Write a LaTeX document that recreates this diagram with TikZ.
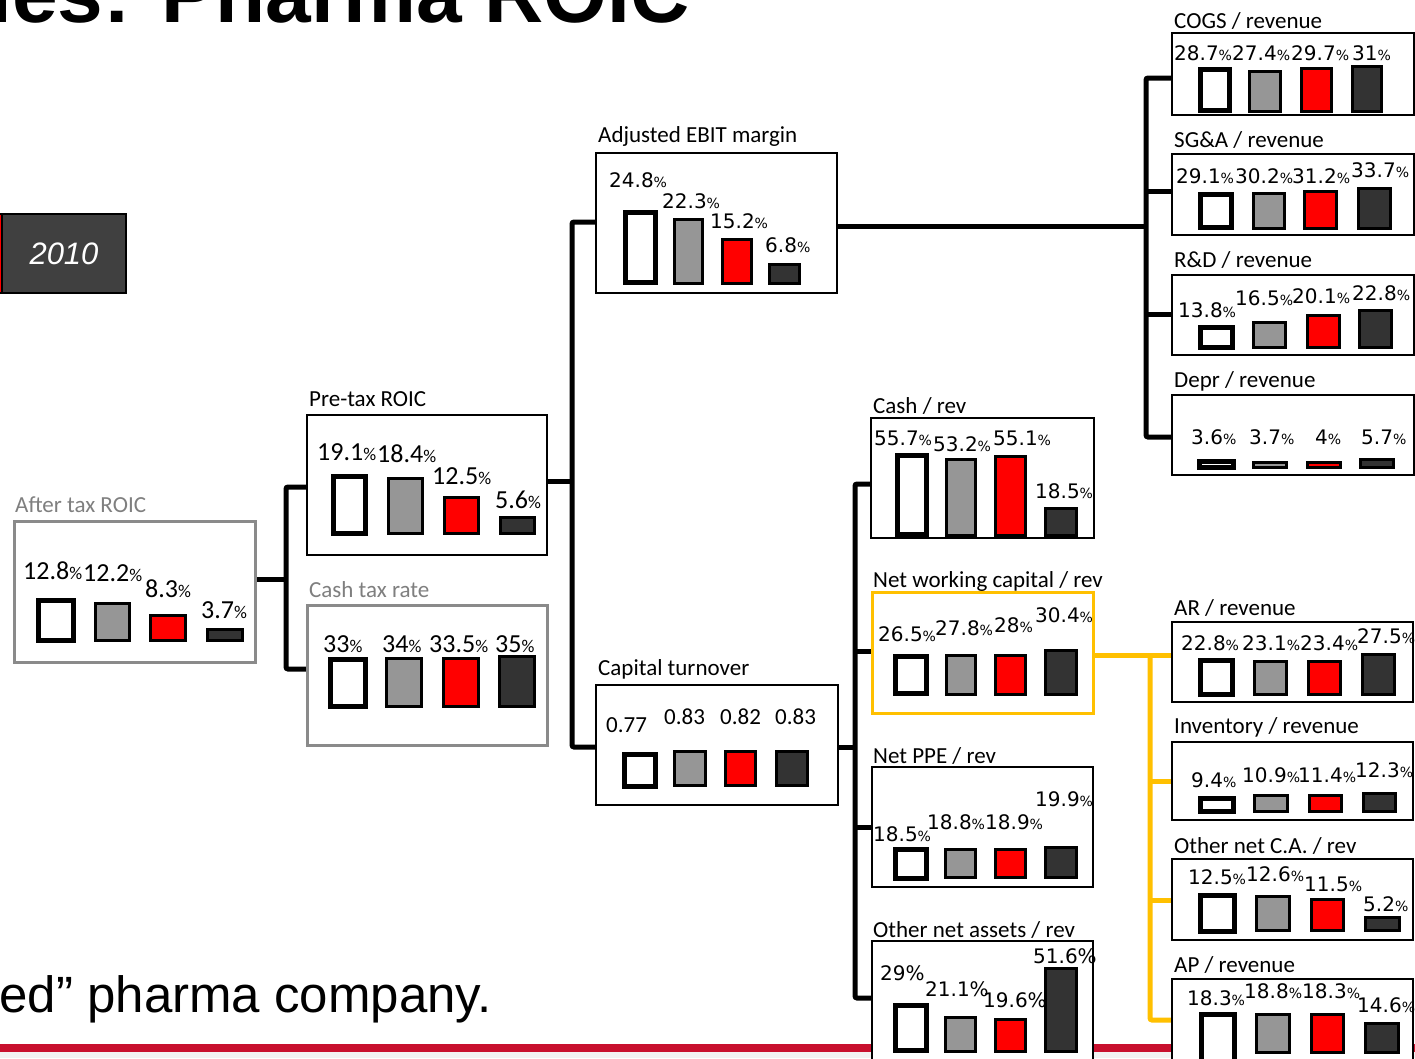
\documentclass[tikz,border=0pt]{standalone}
\usepackage{fontspec}
\setmainfont{Liberation Sans}
\newfontfamily\vfont{DejaVu Sans}
\newfontfamily\cfont{Carlito}
\newfontfamily\afont{Liberation Sans}

\definecolor{barred}{HTML}{FF0000}
\definecolor{bargray}{HTML}{969696}
\definecolor{bardark}{HTML}{333333}
\definecolor{boxgray}{HTML}{8A8A8A}
\definecolor{ttlgray}{HTML}{7F7F7F}
\definecolor{nwcgold}{HTML}{FFC000}
\definecolor{footred}{HTML}{C8102E}
\definecolor{footband}{HTML}{F2F2F2}
\definecolor{legdark}{HTML}{404040}

% boxes from corner coordinates: name, x1, y1, x2, y2, style
\newcommand\panel[6]{\node[#6, minimum width={#4-#2}, minimum height={#5-#3}] (#1) at ({(#2+#4)/2},{(#3+#5)/2}) {};}
% bars from outer corners
\newcommand\bw[4]{\draw[wbar] ({#1+2.5},{#2+2.5}) rectangle ({#3-2.5},{#4-2.5});}
\newcommand\bg[4]{\draw[gbar] ({#1+1.3},{#2+1.3}) rectangle ({#3-1.3},{#4-1.3});}
\newcommand\br[4]{\draw[rbar] ({#1+1.3},{#2+1.3}) rectangle ({#3-1.3},{#4-1.3});}
\newcommand\bd[4]{\draw[dbar] ({#1+1.3},{#2+1.3}) rectangle ({#3-1.3},{#4-1.3});}
% value labels
\newcounter{lb}
\newcommand\vpc{\fontsize{14}{14}\selectfont\%}
\newcommand\cpc{\fontsize{18}{18}\selectfont\%}
\newcommand\vl[3]{\stepcounter{lb}\node[vnum] (lb\arabic{lb}) at (#1,#2) {#3{\vpc}};}
\newcommand\fl[3]{\stepcounter{lb}\node[vnum] (lb\arabic{lb}) at (#1,#2) {#3\%};}
\newcommand\cl[3]{\stepcounter{lb}\node[cnum] (lb\arabic{lb}) at (#1,#2) {#3{\cpc}};}
\newcommand\tl[3]{\stepcounter{lb}\node[tnum] (lb\arabic{lb}) at (#1,#2) {#3};}

\begin{document}
\begin{tikzpicture}[x=1pt,y=-1pt,
  box/.style={rectangle, draw=black, line width=2.6, fill=white, inner sep=0, outer sep=0},
  gbox/.style={box, draw=boxgray, line width=3},
  ybox/.style={box, draw=nwcgold, line width=3},
  wbar/.style={draw=black, line width=5, fill=white},
  gbar/.style={draw=black, line width=2.6, fill=bargray},
  rbar/.style={draw=black, line width=2.6, fill=barred},
  dbar/.style={draw=black, line width=2.6, fill=bardark},
  conn/.style={draw=black, line width=5, rounded corners=2},
  yconn/.style={draw=nwcgold, line width=5, rounded corners=2},
  ttl/.style={font=\cfont\fontsize{23}{27}\selectfont, anchor=base west, inner sep=0},
  gttl/.style={ttl, text=ttlgray},
  vnum/.style={font=\vfont\fontsize{20}{24}\selectfont, anchor=base west, inner sep=0},
  cnum/.style={font=\cfont\fontsize{26}{30}\selectfont, anchor=base west, inner sep=0},
  tnum/.style={font=\cfont\fontsize{23}{27}\selectfont, anchor=base west, inner sep=0},
]
\useasboundingbox (0,0) rectangle (1415,1058);
\clip (0,0) rectangle (1415,1058);
\fill[white] (0,0) rectangle (1415,1058);

% heading and legend
\node[font=\afont\bfseries\fontsize{82}{82}\selectfont, anchor=base east, inner sep=0] (heading) at (690,22) {ies: Pharma ROIC};
\draw[line width=2, fill=barred] (-10,214) rectangle (2,293);
\node[rectangle, draw=black, line width=2, fill=legdark, minimum width=124, minimum height=79, inner sep=0, outer sep=0, text=white, font=\afont\itshape\fontsize{31}{31}\selectfont] (y2010) at (64,253.5) {2010};

% footer
\fill[footred] (0,1044) rectangle (1415,1052);
\fill[footband] (0,1052) rectangle (1415,1058);
\node[font=\afont\fontsize{51}{51}\selectfont, anchor=base east, inner sep=0] (tagline) at (492,1012) {ed” pharma company.};

% junction columns
\coordinate (c1) at (286,0);
\coordinate (c2) at (572,0);
\coordinate (c3) at (855,0);
\coordinate (c4) at (1146,0);
\coordinate (cy) at (1150,0);

% boxes
\panel{atax}{14}{521}{255}{662}{gbox}
\panel{ctax}{307}{605}{547}{745}{gbox}
\panel{ptax}{307}{415}{547}{555}{box}
\panel{ebit}{596}{153}{837}{293}{box}
\panel{capt}{596}{685}{838}{805}{box}
\panel{cash}{871}{418}{1094}{538}{box}
\panel{nwc}{872}{592}{1093}{713}{ybox}
\panel{ppe}{872}{767}{1093}{887}{box}
\panel{ona}{872}{941}{1093}{1080}{box}
\panel{cogs}{1172}{33}{1414}{115}{box}
\panel{sga}{1172}{154}{1414}{235}{box}
\panel{rnd}{1172}{275}{1414}{355}{box}
\panel{depr}{1172}{395}{1414}{475}{box}
\panel{ar}{1172}{622}{1413}{702}{box}
\panel{inv}{1172}{742}{1413}{820}{box}
\panel{oca}{1172}{859}{1413}{940}{box}
\panel{ap}{1172}{979}{1413}{1080}{box}

% connectors
\draw[conn] (atax.east |- 0,579) -- (c1 |- 0,579);
\draw[conn] (ptax.west |- 0,487) -| (c1 |- 0,669) -- (ctax.west |- 0,669);
\draw[conn] (ptax.east |- 0,481) -- (c2 |- 0,481);
\draw[conn] (ebit.west |- 0,222) -| (c2 |- 0,747) -- (capt.west |- 0,747);
\draw[conn] (ebit.east |- 0,226) -- (c4 |- 0,226);
\draw[conn] (cogs.west |- 0,78) -| (c4 |- 0,437) -- (depr.west |- 0,437);
\draw[conn] (sga.west |- 0,191) -- (c4 |- 0,191);
\draw[conn] (rnd.west |- 0,314) -- (c4 |- 0,314);
\draw[conn] (capt.east |- 0,747) -- (c3 |- 0,747);
\draw[conn] (cash.west |- 0,484) -| (c3 |- 0,998) -- (ona.west |- 0,998);
\draw[conn] (nwc.west |- 0,651) -- (c3 |- 0,651);
\draw[conn] (ppe.west |- 0,827) -- (c3 |- 0,827);
\draw[yconn] (nwc.east |- 0,655) -- (ar.west |- 0,655);
\draw[yconn] (cy |- 0,655) |- (ap.west |- 0,1020);
\draw[yconn] (inv.west |- 0,781) -- (cy |- 0,781);
\draw[yconn] (oca.west |- 0,900) -- (cy |- 0,900);

% redraw box outlines over the connector ends
\foreach \b in {atax,ctax}{\draw[boxgray, line width=3] (\b.north west) rectangle (\b.south east);}
\foreach \b in {ptax,ebit,capt,cash,ppe,ona,cogs,sga,rnd,depr,ar,inv,oca,ap}{\draw[black, line width=2.6] (\b.north west) rectangle (\b.south east);}
\draw[nwcgold, line width=3] (nwc.north west) rectangle (nwc.south east);

% titles
\node[gttl] (t-atax) at (15,512) {After tax ROIC};
\node[gttl] (t-ctax) at (309,597) {Cash tax rate};
\node[ttl] (t-ptax) at (309,406) {Pre-tax ROIC};
\node[ttl] (t-ebit) at (598,142) {Adjusted EBIT margin};
\node[ttl] (t-capt) at (598,675) {Capital turnover};
\node[ttl] (t-cash) at (873,413) {Cash / rev};
\node[ttl] (t-nwc) at (873,587) {Net working capital / rev};
\node[ttl] (t-ppe) at (873,763) {Net PPE / rev};
\node[ttl] (t-ona) at (873,937) {Other net assets / rev};
\node[ttl] (t-cogs) at (1174,28) {COGS / revenue};
\node[ttl] (t-sga) at (1174,147) {SG\&A / revenue};
\node[ttl] (t-rnd) at (1174,267) {R\&D / revenue};
\node[ttl] (t-depr) at (1174,387) {Depr / revenue};
\node[ttl] (t-ar) at (1174,615) {AR / revenue};
\node[ttl] (t-inv) at (1174,733) {Inventory / revenue};
\node[ttl] (t-oca) at (1174,853) {Other net C.A. / rev};
\node[ttl] (t-ap) at (1174,972) {AP / revenue};

% After tax ROIC
\bw{36}{598}{76}{643}\bg{94}{602}{131}{642}\br{149}{614}{187}{642}\bd{206}{628}{244}{642}
\cl{23}{579}{12.8}\cl{83}{581}{12.2}\cl{145}{597}{8.3}\cl{201}{618}{3.7}

% Cash tax rate
\bw{328}{657}{368}{709}\bg{385}{657}{423}{708}\br{442}{657}{480}{708}\bd{498}{655}{536}{708}
\cl{323}{652}{33}\cl{382}{652}{34}\cl{429}{652}{33.5}\cl{495}{652}{35}

% Pre-tax ROIC
\bw{331}{474}{368}{536}\bg{387}{477}{424}{535}\br{443}{496}{480}{535}\bd{499}{516}{536}{535}
\cl{317}{460}{19.1}\cl{377}{462}{18.4}\cl{432}{484}{12.5}\cl{495}{508}{5.6}

% Adjusted EBIT margin
\bw{623}{210}{658}{285}\bg{673}{218}{704}{285}\br{721}{238}{753}{285}\bd{768}{263}{801}{285}
\vl{609}{187}{24.8}\vl{662}{208}{22.3}\vl{710}{228}{15.2}\vl{765}{252}{6.8}

% Capital turnover
\bw{622}{752}{658}{789}\bg{673}{750}{707}{787}\br{724}{750}{757}{787}\bd{775}{750}{809}{787}
\tl{606}{732}{0.77}\tl{664}{724}{0.83}\tl{720}{724}{0.82}\tl{775}{724}{0.83}

% Cash / rev
\bw{895}{453}{929}{537}\bg{945}{458}{977}{537}\br{994}{455}{1027}{537}\bd{1044}{507}{1078}{537}
\vl{874}{445}{55.7}\vl{933}{451}{53.2}\vl{993}{445}{55.1}\vl{1035}{498}{18.5}

% Net working capital / rev
\bw{893}{654}{929}{696}\bg{945}{654}{977}{696}\br{994}{654}{1027}{696}\bd{1044}{649}{1078}{696}
\vl{878}{641}{26.5}\vl{935}{635}{27.8}\vl{994}{632}{28}\vl{1035}{622}{30.4}

% Net PPE / rev
\bw{893}{847}{929}{881}\bg{944}{848}{977}{879}\br{994}{848}{1027}{879}\bd{1044}{846}{1078}{879}
\vl{873}{841}{18.5}\vl{927}{829}{18.8}\vl{985}{829}{18.9}\vl{1035}{806}{19.9}

% Other net assets / rev
\bw{893}{1003}{929}{1053}\bg{944}{1016}{977}{1053}\br{994}{1018}{1027}{1053}\bd{1044}{967}{1078}{1053}
\fl{880}{980}{29}\fl{925}{996}{21.1}\fl{983}{1007}{19.6}\fl{1033}{963}{51.6}

% COGS / revenue
\bw{1198}{67}{1232}{113}\bg{1248}{70}{1282}{113}\br{1300}{67}{1333}{113}\bd{1351}{65}{1383}{113}
\vl{1174}{60}{28.7}\vl{1232}{60}{27.4}\vl{1291}{60}{29.7}\vl{1352}{60}{31}

% SG&A / revenue
\bw{1198}{192}{1234}{230}\bg{1252}{192}{1286}{230}\br{1303}{190}{1338}{230}\bd{1357}{187}{1392}{230}
\vl{1176}{183}{29.1}\vl{1235}{183}{30.2}\vl{1292}{183}{31.2}\vl{1351}{177}{33.7}

% R&D / revenue
\bw{1198}{325}{1235}{350}\bg{1252}{321}{1287}{349}\br{1306}{314}{1341}{349}\bd{1358}{309}{1393}{349}
\vl{1178}{317}{13.8}\vl{1235}{305}{16.5}\vl{1292}{303}{20.1}\vl{1352}{300}{22.8}

% Depr / revenue
\bw{1197}{459}{1236}{470}\bg{1252}{461}{1288}{469}\br{1306}{461}{1342}{469}\bd{1359}{458}{1395}{469}
\vl{1191}{444}{3.6}\vl{1249}{444}{3.7}\vl{1315}{444}{4}\vl{1361}{444}{5.7}

% AR / revenue
\bw{1198}{658}{1235}{697}\bg{1253}{660}{1288}{696}\br{1307}{660}{1342}{696}\bd{1361}{653}{1396}{696}
\vl{1181}{650}{22.8}\vl{1242}{650}{23.1}\vl{1300}{650}{23.4}\vl{1357}{643}{27.5}

% Inventory / revenue
\bw{1198}{796}{1236}{814}\bg{1253}{794}{1289}{813}\br{1308}{794}{1343}{813}\bd{1362}{792}{1397}{813}
\vl{1191}{787}{9.4}\vl{1242}{782}{10.9}\vl{1298}{782}{11.4}\vl{1355}{777}{12.3}

% Other net C.A. / rev
\bw{1198}{893}{1237}{934}\bg{1255}{895}{1291}{932}\br{1310}{898}{1345}{932}\bd{1364}{916}{1401}{932}
\vl{1188}{884}{12.5}\vl{1246}{881}{12.6}\vl{1304}{891}{11.5}\vl{1363}{911}{5.2}

% AP / revenue
\bw{1199}{1012}{1237}{1070}\bg{1255}{1013}{1291}{1054}\br{1310}{1013}{1345}{1054}\bd{1364}{1022}{1400}{1054}
\vl{1187}{1005}{18.3}\vl{1244}{998}{18.8}\vl{1302}{998}{18.3}\vl{1357}{1012}{14.6}

\end{tikzpicture}
\end{document}
